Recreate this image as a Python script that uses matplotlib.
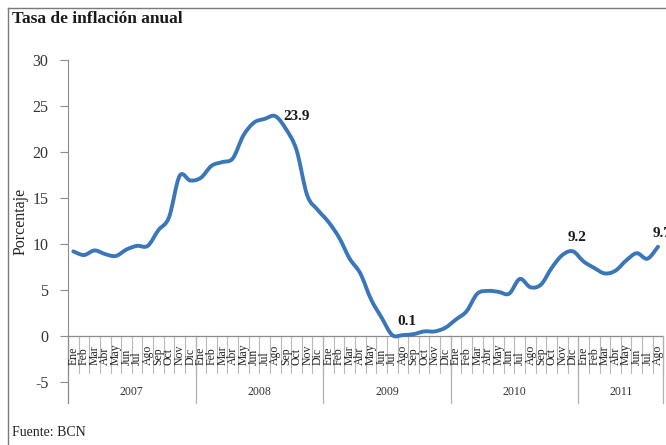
import numpy as np
import matplotlib
matplotlib.use("Agg")
from matplotlib import pyplot as plt
from matplotlib.path import Path
from matplotlib.patches import PathPatch
from matplotlib.lines import Line2D

plt.rcParams['font.family'] = ['Liberation Serif', 'DejaVu Serif']
plt.rcParams['axes.unicode_minus'] = False

years = ['2007', '2008', '2009', '2010', '2011']
months = ['Ene', 'Feb', 'Mar', 'Abr', 'May', 'Jun', 'Jul', 'Ago', 'Sep', 'Oct', 'Nov', 'Dic']
months_per_year = [12, 12, 12, 12, 8]

inflacion = [
    9.2, 8.8, 9.3, 8.9, 8.7, 9.4, 9.8, 9.8, 11.5, 12.9, 17.4, 16.9,     # 2007
    17.2, 18.5, 18.9, 19.3, 21.8, 23.2, 23.6, 23.9, 22.5, 20.2, 15.3, 13.7,  # 2008
    12.4, 10.7, 8.4, 6.8, 4.0, 2.0, 0.1, 0.1, 0.2, 0.5, 0.5, 0.9,       # 2009
    1.8, 2.7, 4.6, 4.9, 4.8, 4.6, 6.2, 5.3, 5.6, 7.4, 8.8, 9.2,         # 2010
    8.1, 7.4, 6.8, 7.1, 8.2, 9.0, 8.4, 9.7,                             # 2011
]
# (index, text, placement)
etiquetas = [(19, '23.9', 'right'), (31, '0.1', 'above'), (47, '9.2', 'above'), (55, '9.7', 'above')]

W, H = 666, 445
GRAY = '#8c8c8c'
BLUE = '#3a76ba'

fig = plt.figure(figsize=(W / 100, H / 100), dpi=100)
ax = fig.add_axes([68 / W, 1 - 382 / H, (663.3 - 68) / W, (382 - 60) / H])

n = len(inflacion)
x = np.arange(n) + 0.5
y = np.array(inflacion)

# smoothed line (Catmull-Rom as cubic bezier segments)
pts = np.column_stack([x, y])
ext = np.vstack([pts[0], pts, pts[-1]])
verts = [tuple(pts[0])]
codes = [Path.MOVETO]
for i in range(n - 1):
    p0, p1, p2, p3 = ext[i], ext[i + 1], ext[i + 2], ext[i + 3]
    c1 = p1 + (p2 - p0) / 6.0
    c2 = p2 - (p3 - p1) / 6.0
    verts += [tuple(c1), tuple(c2), tuple(p2)]
    codes += [Path.CURVE4] * 3
ax.add_patch(PathPatch(Path(verts, codes), fill=False, edgecolor=BLUE, lw=2.8,
                       capstyle='round', joinstyle='round', zorder=5, clip_on=False))

for idx, txt, pos in etiquetas:
    if pos == 'right':
        ax.annotate(txt, (x[idx], y[idx]), xytext=(6, 0), textcoords='offset points',
                    ha='left', va='center', fontsize=11, fontweight='bold', color='#1a1a1a')
    else:
        ax.annotate(txt, (x[idx], y[idx]), xytext=(3, 5), textcoords='offset points',
                    ha='center', va='bottom', fontsize=11, fontweight='bold', color='#1a1a1a')

ax.set_xlim(0, n)
ax.set_ylim(-5, 30)
ax.set_yticks(np.arange(-5, 31, 5))
ax.set_xticks([])
for s in ['top', 'right', 'bottom']:
    ax.spines[s].set_visible(False)
ax.spines['left'].set_color(GRAY)
ax.spines['left'].set_bounds(-7.3, 30)
ax.tick_params(axis='y', colors=GRAY, labelcolor='#333333', labelsize=11.5, length=6, pad=8)
ax.set_ylabel('Porcentaje', fontsize=11.5, color='#222222', labelpad=3)
ax.axhline(0, color=GRAY, lw=0.9, zorder=2)

# category axis: month cells and year boxes
px = 9.2  # pixels per unit
m_bot = -(373 - 336) / px
y_bot = -(403 - 336) / px
txt_bot = -(365 - 336) / px
yr_mid = -(392 - 336) / px

for i in range(n + 1):
    ax.plot([i, i], [0, m_bot], color='#b8b8b8', lw=0.8, clip_on=False, zorder=1)
k = 0
for yr, cnt in zip(years, months_per_year):
    for j in range(cnt):
        ax.text(k + j + 0.5, txt_bot, months[j], rotation=90, ha='center', va='bottom',
                fontsize=8.5, color='#222222', clip_on=False)
    ax.plot([k, k], [0, y_bot], color='#b0b0b0', lw=0.9, clip_on=False, zorder=1)
    ax.text(k + cnt / 2, yr_mid, yr, ha='center', va='center', fontsize=8.5, color='#333333')
    k += cnt
ax.plot([k, k], [0, y_bot], color='#b0b0b0', lw=0.9, clip_on=False, zorder=1)

fig.text(12 / W, 1 - 19 / H, 'Tasa de inflación anual', fontsize=12.5, fontweight='bold',
         ha='left', va='center', color='#1a1a1a')
fig.text(12 / W, 1 - 433 / H, 'Fuente: BCN', fontsize=10, ha='left', va='center', color='#222222')

fig.add_artist(Line2D([7.5 / W, 7.5 / W], [0, 1 - 7.5 / H], color='#7a7a7a', lw=1.0))
fig.add_artist(Line2D([7.5 / W, 1], [1 - 7.5 / H, 1 - 7.5 / H], color='#7a7a7a', lw=1.0))

fig.savefig('out.png', dpi=100)
